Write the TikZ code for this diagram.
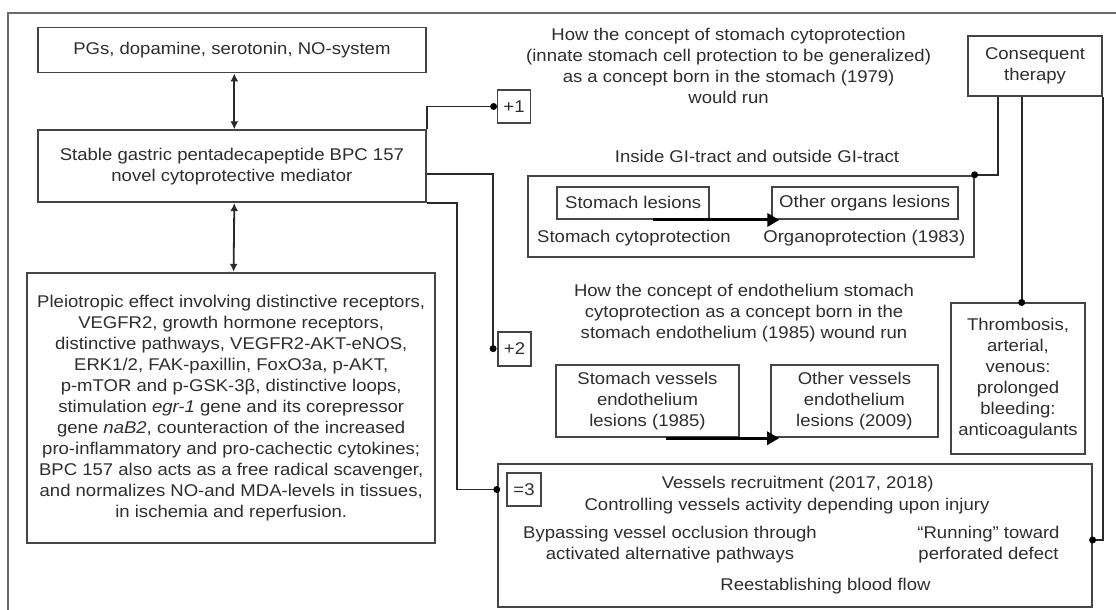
\documentclass[tikz,border=0pt]{standalone}
\usepackage{fontspec}
\setmainfont{Liberation Sans}[FakeStretch=1.09]
\usetikzlibrary{arrows.meta}
\definecolor{txt}{HTML}{2E2E2E}
\definecolor{boxc}{HTML}{454545}
\definecolor{linec}{HTML}{2A2A2A}
\definecolor{framec}{HTML}{6A6A6A}
\begin{document}
\begin{tikzpicture}[x=1pt,y=-1pt,
  every node/.style={font=\fontsize{17}{21}\selectfont, text=txt},
  box/.style={draw=boxc, line width=1.8pt, inner sep=0pt, align=center},
  conn/.style={draw=linec, line width=1.8pt},
  dbl/.style={conn, {Latex[length=8pt,width=8pt]}-{Latex[length=8pt,width=8pt]}},
  bigarrow/.style={draw=black, line width=3pt, -{Triangle[length=12pt,width=13pt]}},
  dot/.style={circle, fill=black, inner sep=0pt, minimum size=7pt},
  lbl/.style={align=center, inner sep=0pt}
]
\useasboundingbox (0,0) rectangle (1116,610);
\fill[white] (0,0) rectangle (1116,610);
% outer frame (cropped)
\draw[draw=framec, line width=2.2pt] (8,610) -- (8,13.3) -- (1116,13.3);

% left column
\node[box, minimum width=388pt, minimum height=45pt] (A) at (231.9,50) {PGs, dopamine, serotonin, NO-system};
\node[box, minimum width=388pt, minimum height=72pt] (B) at (231.9,166.2) {Stable gastric pentadecapeptide BPC 157\\novel cytoprotective mediator};
\node[box, minimum width=407.7pt, minimum height=270pt] (C) at (231.2,407.7) {Pleiotropic effect involving distinctive receptors,\\
VEGFR2, growth hormone receptors,\\
distinctive pathways, VEGFR2-AKT-eNOS,\\
ERK1/2, FAK-paxillin, FoxO3a, p-AKT,\\
p-mTOR and p-GSK-3β, distinctive loops,\\
stimulation \textit{egr-1} gene and its corepressor\\
gene \textit{naB2}, counteraction of the increased\\
pro-inflammatory and pro-cachectic cytokines;\\
BPC 157 also acts as a free radical scavenger,\\
and normalizes NO-and MDA-levels in tissues,\\
in ischemia and reperfusion.};

\draw[dbl] ([xshift=2.4pt]A.south) -- ([xshift=2.4pt]B.north);
\draw[dbl] ([xshift=2.4pt]B.south) -- ([xshift=2.4pt]C.north);

% small numbered boxes
\node[box, minimum width=33pt, minimum height=33pt] (p1) at (514,106.5) {+1};
\node[box, minimum width=33pt, minimum height=34pt] (p2) at (514.5,348.7) {+2};
\node[box, minimum width=34pt, minimum height=33pt] (p3) at (524,489.5) {=3};

% right column
\node[lbl] (t1) at (728.6,66) {How the concept of stomach cytoprotection\\(innate stomach cell protection to be generalized)\\as a concept born in the stomach (1979)\\would run};
\node[lbl] (t2) at (757,156) {Inside GI-tract and outside GI-tract};
\node[box, minimum width=445.7pt, minimum height=81pt] (E) at (750.9,216.2) {};
\node[box, minimum width=152.3pt, minimum height=32.3pt] (sl) at (633.2,202.9) {Stomach lesions};
\node[box, minimum width=186pt, minimum height=32.3pt] (ol) at (864.7,202.9) {Other organs lesions};
\node[lbl] (sc) at (634,237.7) {Stomach cytoprotection};
\node[lbl] (op) at (864.3,237.7) {Organoprotection (1983)};
\draw[bigarrow] ([xshift=19.5pt]sl.south) -- ([xshift=8.6pt]ol.south west);

\node[lbl] (t3) at (744,312.8) {How the concept of endothelium stomach\\cytoprotection as a concept born in the\\stomach endothelium (1985) wound run};
\node[box, minimum width=183.6pt, minimum height=72.3pt] (sv) at (647.5,401.2) {Stomach vessels\\endothelium\\lesions (1985)};
\node[box, minimum width=166.7pt, minimum height=72.3pt] (ov) at (854.4,401.2) {Other vessels\\endothelium\\lesions (2009)};
\draw[bigarrow] ([xshift=18.5pt]sv.south) -- ([xshift=9pt]ov.south west);

\node[box, minimum width=133.4pt, minimum height=59.7pt] (cons) at (1035,65.9) {Consequent\\therapy};
\node[box, minimum width=134pt, minimum height=150.7pt] (thr) at (1018,378.7) {Thrombosis,\\arterial,\\venous:\\prolonged\\bleeding:\\anticoagulants};

\node[box, minimum width=594pt, minimum height=142.4pt] (D) at (794.7,535.5) {};
\node[lbl] (d1) at (797.7,484.3) {Vessels recruitment (2017, 2018)};
\node[lbl] (d2) at (787,505.7) {Controlling vessels activity depending upon injury};
\node[lbl] (d3) at (670,544.3) {Bypassing vessel occlusion through\\activated alternative pathways};
\node[lbl] (d4) at (988.5,544.3) {``Running'' toward\\perforated defect};
\node[lbl] (d5) at (825.5,586) {Reestablishing blood flow};

% connectors from B
\draw[conn] (B.north east) |- (p1.west);
\node[dot] (k1) at ([xshift=-3pt]p1.west) {};
\draw[conn] ([yshift=-8pt]B.east) -| ([xshift=-4pt]p2.west);
\node[dot] (k2) at ([xshift=-4pt]p2.west) {};
\draw[conn] (B.south east) -- ++(30,0) |- (D.west |- p3.west);
\node[dot] (k3) at (D.west |- p3.west) {};

% connectors from Consequent therapy
\draw[conn] ([xshift=-37.3pt]cons.south) |- (E.north east);
\node[dot] (k4) at (E.north east) {};
\draw[conn] ([xshift=-13.3pt]cons.south) coordinate (c0) -- (c0 |- thr.north);
\node[dot] (k5) at (c0 |- thr.north) {};
\draw[conn] (cons.south east) |- ([yshift=-4.5pt]D.east);
\node[dot] (k6) at ([yshift=-4.5pt]D.east) {};
\end{tikzpicture}
\end{document}
